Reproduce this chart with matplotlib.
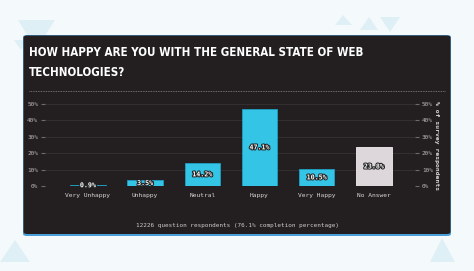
import matplotlib.pyplot as plt
import matplotlib.patheffects as pe
from matplotlib.patches import FancyBboxPatch, Polygon

categories = ['Very Unhappy', 'Unhappy', 'Neutral', 'Happy', 'Very Happy', 'No Answer']
values = [0.9, 3.5, 14.2, 47.1, 10.5, 23.8]
labels = ['0.9%', '3.5%', '14.2%', '47.1%', '10.5%', '23.8%']
yticks = [0, 10, 20, 30, 40, 50]
title_lines = ['HOW HAPPY ARE YOU WITH THE GENERAL STATE OF WEB', 'TECHNOLOGIES?']
footer = '12226 question respondents (76.1% completion percentage)'

W, H = 474, 271
fig = plt.figure(figsize=(W / 100, H / 100), dpi=100)
fig.patch.set_facecolor('#f4f9fc')

def px(x, y):
    return (x / W, 1 - y / H)

# decorative triangles in the background
tris = [
    [(18, 20), (55, 20), (36, 50)],
    [(14, 40), (28, 40), (21, 50)],
    [(335, 25), (352, 25), (343, 15)],
    [(360, 30), (378, 30), (369, 17)],
    [(380, 17), (400, 17), (390, 32)],
    [(0, 262), (30, 262), (15, 240)],
    [(430, 262), (455, 262), (442, 238)],
]
for t in tris:
    fig.add_artist(Polygon([px(*p) for p in t], closed=True, transform=fig.transFigure,
                           facecolor='#d9eef5', edgecolor='none', alpha=0.8, zorder=0))

# dark panel
x0, y0 = px(23, 236)
x1, y1 = px(451, 35)
fig.add_artist(FancyBboxPatch((x0, y0), x1 - x0, y1 - y0, boxstyle='round,pad=0,rounding_size=0.008',
                              transform=fig.transFigure, facecolor='#4a9fd8', edgecolor='none', zorder=0.5))
x0b, y0b = px(23.5, 234)
x1b, y1b = px(450.5, 35.5)
fig.add_artist(FancyBboxPatch((x0b, y0b), x1b - x0b, y1b - y0b, boxstyle='round,pad=0,rounding_size=0.008',
                              transform=fig.transFigure, facecolor='#231f20', edgecolor='none', zorder=0.6))

for ty, line in zip([52, 73], title_lines):
    fig.text(29 / W, 1 - ty / H, line, ha='left', va='center', color='white', fontsize=8.3,
             fontweight='bold', fontstretch='condensed', family='DejaVu Sans')
fig.add_artist(plt.Line2D([29 / W, 445 / W], [1 - 91 / H, 1 - 91 / H], transform=fig.transFigure,
                          color='#8a8688', lw=0.6, ls=(0, (1, 1))))

fig.text(237 / W, 1 - 225 / H, footer, ha='center', va='center', color='#cfcbcc', fontsize=4.3,
         family='DejaVu Sans Mono')

ax = fig.add_axes([45 / W, 1 - 186 / H, 370 / W, 82 / H])
ax.set_zorder(2)
ax.set_facecolor('none')
x = list(range(len(categories)))
colors = ['#34c4e6'] * 5 + ['#ddd6db']
edges = ['#1f9fc4'] * 5 + ['#f2eef0']
ax.bar(x, values, width=0.62, color=colors, edgecolor=edges, linewidth=0.6, zorder=3)
for xi, v, lab in zip(x, values, labels):
    ax.text(xi, v / 2, lab, ha='center', va='center', color='white', fontsize=4.8,
            fontweight='bold', family='DejaVu Sans Mono', zorder=4,
            path_effects=[pe.withStroke(linewidth=1.5, foreground='#222222')])

ax.set_xlim(-0.75, 5.72)
ax.set_ylim(0, 50)
ax.set_yticks(yticks)
ax.set_yticklabels([f'{t}%' for t in yticks])
ax.set_xticks(x)
ax.set_xticklabels(categories)
ax.yaxis.grid(True, color='#373233', lw=0.6, zorder=0)
ax.tick_params(axis='y', length=3, color='#6d696a', labelsize=4.3, labelcolor='#bdb9ba',
               right=True, labelright=True, pad=2)
ax.tick_params(axis='x', length=0, labelsize=4.5, labelcolor='#d8d4d5', pad=5)
for lab in ax.get_xticklabels() + ax.get_yticklabels():
    lab.set_family('DejaVu Sans Mono')
for s in ax.spines.values():
    s.set_visible(False)

fig.text(436 / W, 1 - 146 / H, '% of survey respondents', rotation=-90, ha='center', va='center',
         color='#d8d4d5', fontsize=4.6, fontweight='bold', family='DejaVu Sans Mono')

fig.savefig('out.png', dpi=100, facecolor=fig.get_facecolor())
